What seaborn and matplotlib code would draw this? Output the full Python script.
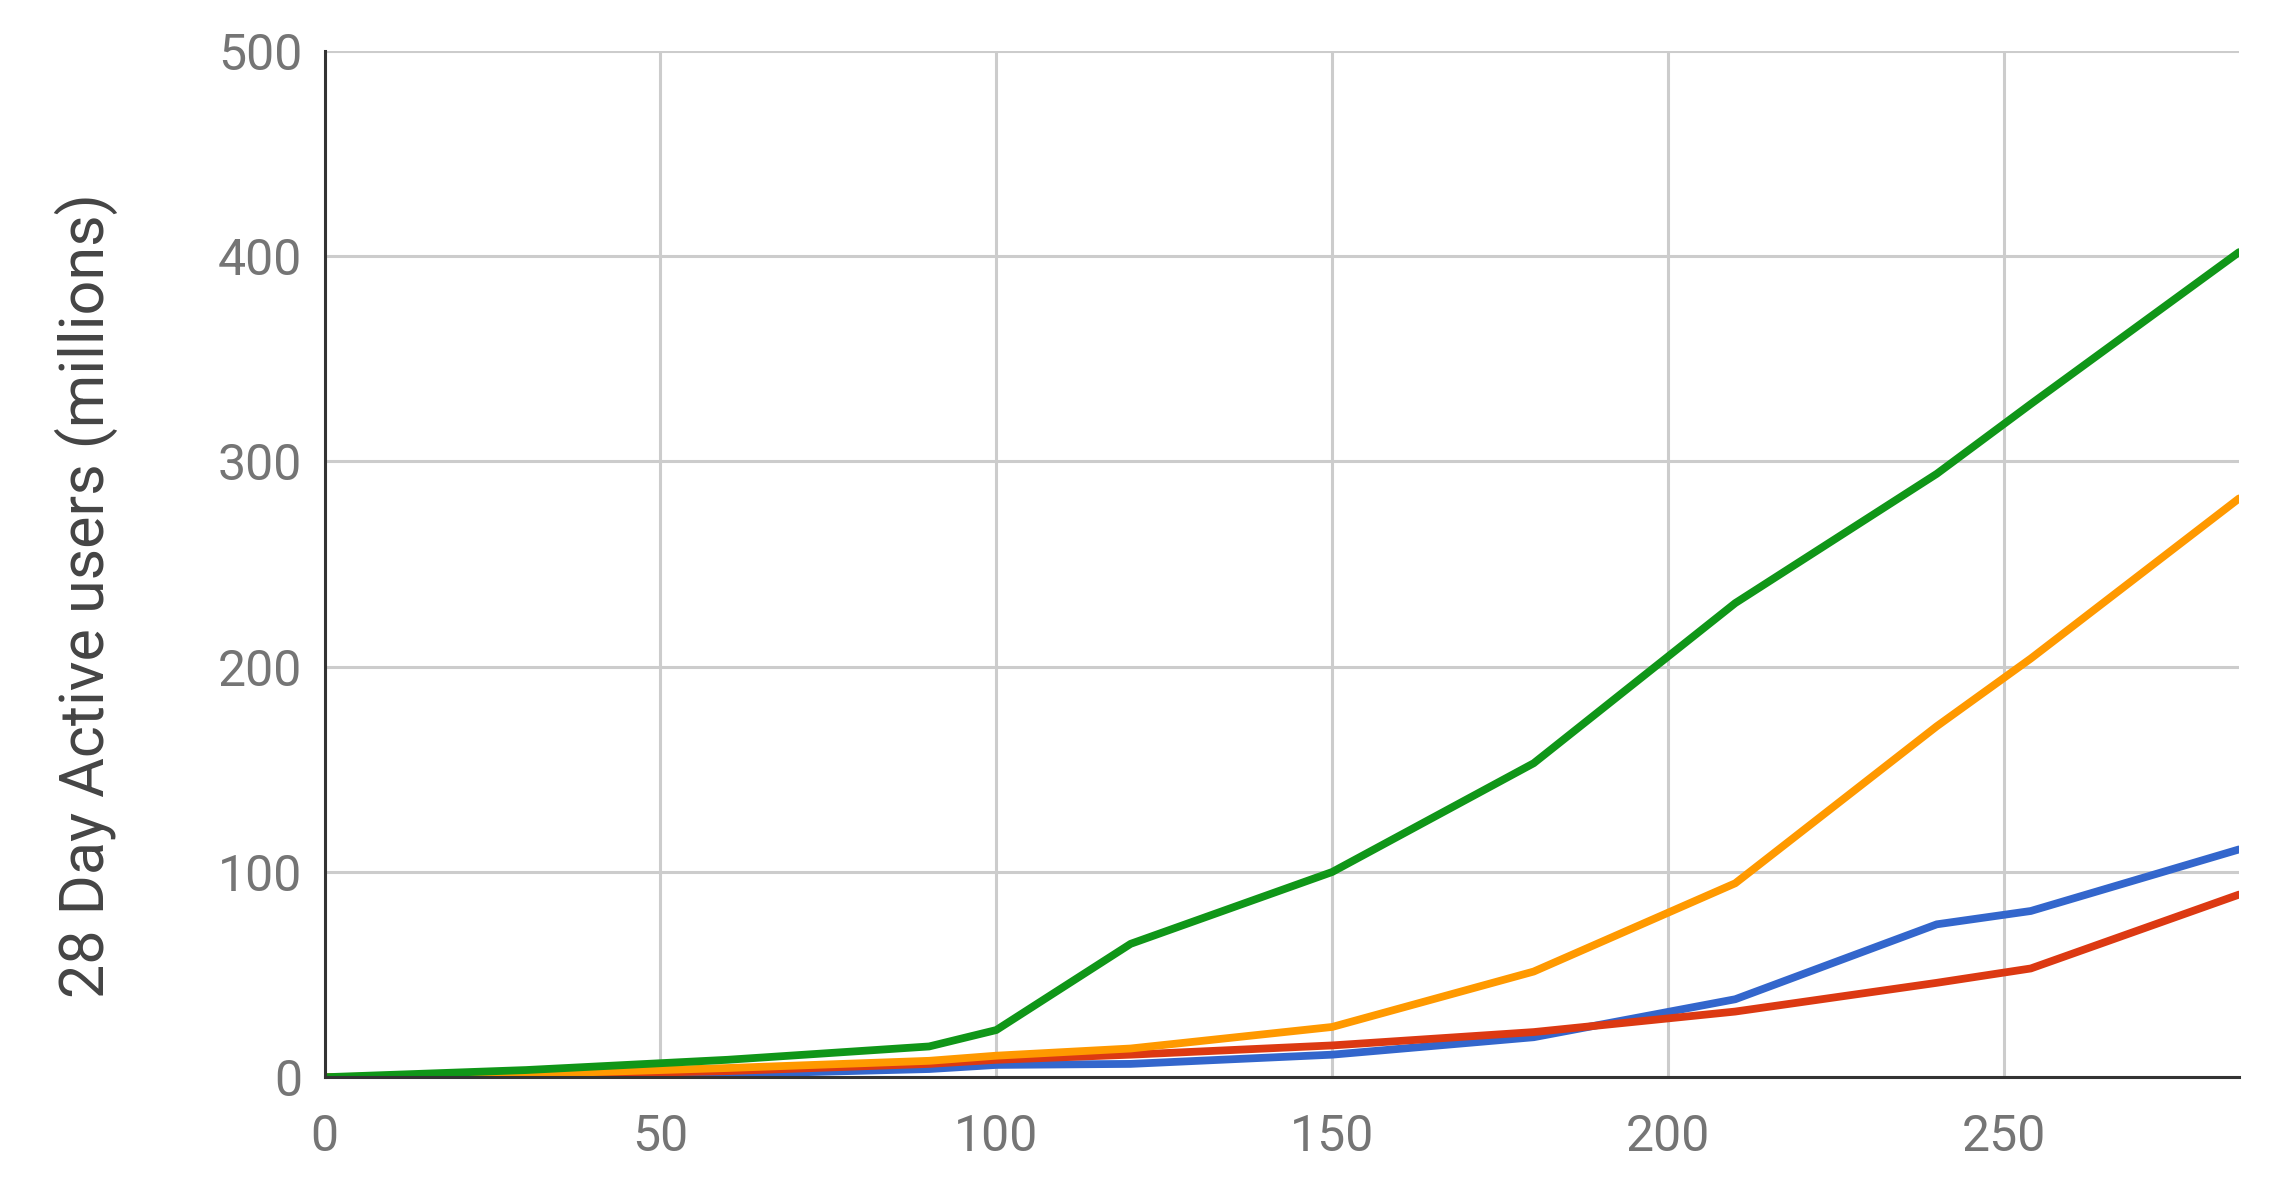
import numpy as np
import pandas as pd
import matplotlib
matplotlib.use("Agg")
import matplotlib.pyplot as plt
import seaborn as sns

# days since launch
days = [0, 30, 60, 90, 100, 120, 150, 180, 210, 240, 254, 285]

# 28 day active users (millions)
green = [0, 3.5, 8.5, 15, 23, 65, 100, 153, 231, 294, 328, 402]
orange = [0, 1.5, 4.5, 8, 10.5, 14, 24.5, 51.5, 94.5, 171, 204, 282]
blue = [0, 0.5, 1.5, 4, 6, 6.5, 11, 19.5, 38, 74.5, 81, 111]
red = [0, 1, 3, 6.5, 8.5, 11, 15.5, 22, 32, 46, 53, 89]

series_names = ["blue", "red", "orange", "green"]
colors = {"blue": "#3366cc", "red": "#dc3912", "orange": "#ff9900", "green": "#109618"}


def build_frame():
    rows = []
    for name, vals in zip(series_names, [blue, red, orange, green]):
        for d, v in zip(days, vals):
            rows.append({"day": d, "users": v, "series": name})
    return pd.DataFrame(rows)


def main():
    sns.set_style("white")
    plt.rcParams["font.family"] = ["Roboto", "DejaVu Sans"]

    df = build_frame()
    fig = plt.figure(figsize=(22.92, 12), dpi=100)
    ax = fig.add_axes([0.1416, 0.1023, 0.8353, 0.8552])

    sns.lineplot(data=df, x="day", y="users", hue="series", hue_order=series_names,
                 palette=colors, linewidth=5.6, legend=False, ax=ax)

    ax.set_xlim(0, 285)
    ax.set_ylim(0, 500)
    ax.set_xticks([0, 50, 100, 150, 200, 250])
    ax.set_yticks([0, 100, 200, 300, 400, 500])
    ax.grid(True, color="#cccccc", linewidth=2.2)
    ax.set_axisbelow(True)

    for s in ["top", "right"]:
        ax.spines[s].set_visible(False)
    for s in ["left", "bottom"]:
        ax.spines[s].set_color("#333333")
        ax.spines[s].set_linewidth(2.2)
        ax.spines[s].set_zorder(3)

    ax.tick_params(axis="both", length=0, labelsize=36, labelcolor="#757575")
    ax.tick_params(axis="y", pad=16)
    ax.tick_params(axis="x", pad=26)
    ax.set_xlabel("")
    ax.set_ylabel("28 Day Active users (millions)", fontsize=44, color="#444444")
    ax.yaxis.set_label_coords(-0.108, 0.469)

    fig.savefig("out.png", dpi=100)


if __name__ == '__main__':
    main()
